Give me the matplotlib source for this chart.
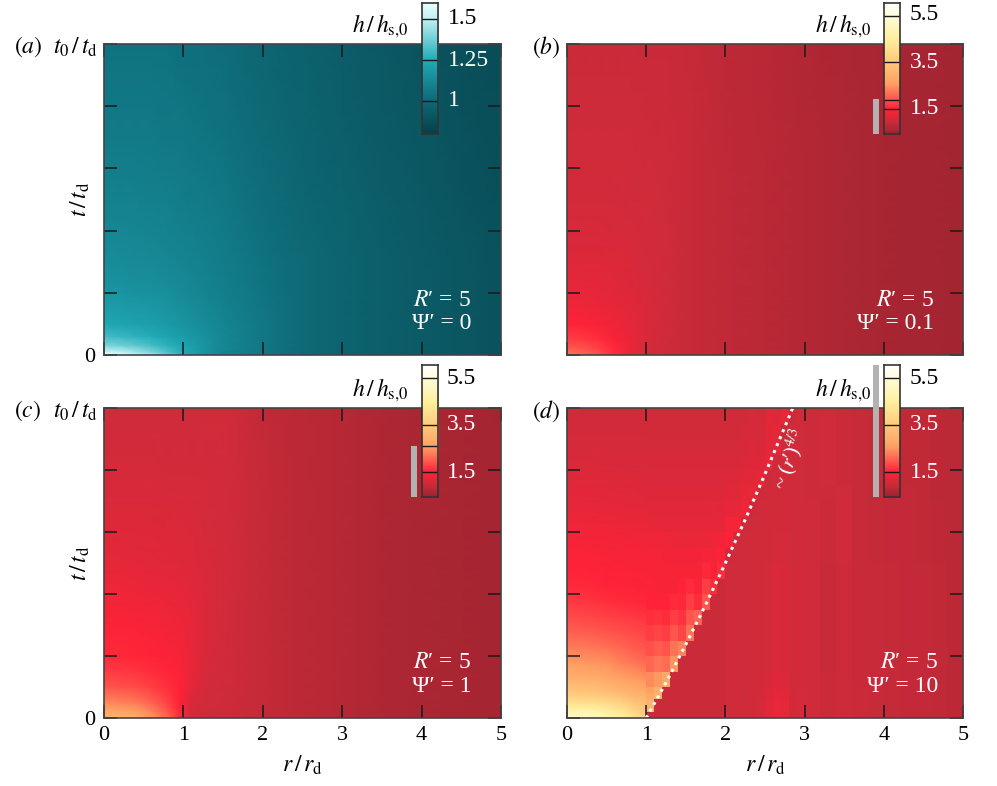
import numpy as np
import matplotlib
matplotlib.use("Agg")
import matplotlib.pyplot as plt
from matplotlib.colors import LinearSegmentedColormap, Normalize
from matplotlib.patches import Rectangle

plt.rcParams['font.family'] = ['Liberation Serif', 'DejaVu Serif']
plt.rcParams['mathtext.fontset'] = 'stix'

W, H = 997, 786

# colour scales
teal_vals = [0.8, 1.0, 1.25, 1.5, 1.6]
teal_cols = ['#064049', '#0e6a77', '#20acb8', '#c2f1f3', '#ecffff']
red_vals = [0.45, 1.0, 1.5, 2.0, 2.6, 3.5, 4.5, 5.5, 6.05]
red_cols = ['#9c2430', '#cf2b3a', '#ff2238', '#ff5c50', '#ffa062', '#ffc97c', '#fff09e', '#fffcdc', '#ffffff']

# panel (a) nodes
a_r = [0, .2, .4, .6, .8, 1, 1.25, 1.5, 2, 2.5, 3, 3.5, 4, 4.5, 5]
a_t = [0, .01, .03, .06, .1, .2, .3, .5, .7, 1]
a_h = [
    [1.60, 1.58, 1.52, 1.45, 1.36, 1.25, 1.15, 1.10, 1.05, 1.00, .97, .95, .93, .91, .89],
    [1.52, 1.50, 1.45, 1.39, 1.32, 1.24, 1.16, 1.10, 1.05, 1.00, .97, .95, .93, .91, .89],
    [1.40, 1.38, 1.35, 1.31, 1.27, 1.22, 1.16, 1.11, 1.05, 1.00, .97, .95, .93, .91, .89],
    [1.30, 1.29, 1.27, 1.25, 1.22, 1.19, 1.15, 1.11, 1.05, 1.00, .97, .95, .93, .91, .89],
    [1.23, 1.22, 1.21, 1.20, 1.18, 1.16, 1.13, 1.10, 1.05, 1.00, .97, .95, .93, .91, .89],
    [1.16, 1.16, 1.15, 1.15, 1.14, 1.12, 1.10, 1.08, 1.04, 1.00, .97, .95, .93, .91, .89],
    [1.13, 1.13, 1.12, 1.12, 1.11, 1.10, 1.09, 1.07, 1.03, 1.00, .97, .95, .93, .91, .89],
    [1.09, 1.09, 1.09, 1.08, 1.08, 1.07, 1.06, 1.05, 1.01, .98, .96, .94, .92, .90, .88],
    [1.06, 1.06, 1.06, 1.06, 1.05, 1.05, 1.04, 1.03, 1.00, .97, .95, .93, .91, .89, .87],
    [1.03, 1.03, 1.03, 1.03, 1.03, 1.02, 1.02, 1.01, .98, .96, .94, .92, .90, .88, .86],
]

# panels (b) and (c) nodes
bc_r = [0, .2, .4, .6, .8, .95, 1.1, 1.3, 1.6, 2, 2.5, 3, 3.5, 4, 5]
bc_t = [0, .02, .05, .1, .15, .2, .3, .4, .5, .6, .8, 1]
b_h = [
    [2.20, 2.10, 1.90, 1.60, 1.30, 1.12, 1.03, .98, .92, .86, .78, .72, .65, .60, .55],
    [2.00, 1.92, 1.78, 1.55, 1.30, 1.14, 1.04, .99, .92, .86, .78, .72, .65, .60, .55],
    [1.75, 1.70, 1.60, 1.45, 1.28, 1.16, 1.05, 1.00, .93, .86, .78, .72, .65, .60, .55],
    [1.50, 1.48, 1.42, 1.33, 1.24, 1.16, 1.07, 1.01, .93, .86, .78, .72, .65, .60, .55],
    [1.38, 1.36, 1.32, 1.27, 1.20, 1.14, 1.07, 1.01, .93, .86, .78, .72, .65, .60, .55],
    [1.28, 1.27, 1.25, 1.21, 1.16, 1.12, 1.06, 1.01, .93, .86, .78, .72, .65, .60, .55],
    [1.16, 1.16, 1.15, 1.13, 1.11, 1.08, 1.05, 1.00, .93, .86, .78, .72, .65, .60, .55],
    [1.10, 1.10, 1.09, 1.08, 1.07, 1.06, 1.04, 1.00, .93, .86, .78, .72, .65, .60, .55],
    [1.06, 1.06, 1.05, 1.05, 1.04, 1.03, 1.02, .99, .93, .86, .78, .72, .65, .60, .55],
    [1.03, 1.03, 1.02, 1.02, 1.02, 1.01, 1.00, .98, .92, .85, .78, .72, .65, .60, .55],
    [.99, .99, .99, .99, .98, .98, .97, .96, .91, .84, .77, .71, .65, .60, .55],
    [.96, .96, .96, .96, .96, .95, .95, .94, .90, .83, .76, .70, .64, .59, .55],
]
c_h = [
    [3.00, 2.95, 2.85, 2.50, 2.10, 1.60, 1.02, 1.00, .98, .90, .82, .75, .68, .62, .56],
    [2.80, 2.75, 2.65, 2.35, 1.95, 1.55, 1.05, 1.01, .98, .90, .82, .75, .68, .62, .56],
    [2.40, 2.35, 2.25, 2.05, 1.78, 1.50, 1.12, 1.03, .98, .90, .82, .75, .68, .62, .56],
    [1.95, 1.90, 1.85, 1.75, 1.62, 1.50, 1.22, 1.05, 1.00, .90, .82, .75, .68, .62, .56],
    [1.72, 1.70, 1.66, 1.60, 1.54, 1.47, 1.28, 1.08, 1.00, .90, .82, .75, .68, .62, .56],
    [1.58, 1.56, 1.54, 1.50, 1.46, 1.42, 1.28, 1.10, 1.00, .90, .82, .75, .68, .62, .56],
    [1.48, 1.46, 1.44, 1.42, 1.38, 1.34, 1.26, 1.12, 1.01, .90, .82, .75, .68, .62, .56],
    [1.36, 1.35, 1.33, 1.31, 1.28, 1.26, 1.20, 1.11, 1.02, .90, .82, .75, .68, .62, .56],
    [1.25, 1.24, 1.23, 1.21, 1.19, 1.17, 1.14, 1.09, 1.02, .90, .82, .75, .68, .62, .56],
    [1.17, 1.17, 1.16, 1.15, 1.14, 1.13, 1.11, 1.07, 1.02, .90, .82, .75, .68, .62, .56],
    [1.07, 1.07, 1.07, 1.07, 1.06, 1.06, 1.06, 1.06, 1.04, .90, .82, .75, .68, .62, .56],
    [1.00, 1.00, 1.00, 1.00, 1.00, 1.00, 1.01, 1.03, 1.03, .88, .80, .74, .67, .61, .55],
]

# panel (d): first six columns are smooth, the rest are cells from r = 1
d_left_r = [0, .3, .5, .7, .85, 1]
d_r_edges = [1, 1.1, 1.2, 1.3, 1.4, 1.5, 1.6, 1.7, 1.8, 1.9, 2, 2.1, 2.2,
             2.3, 2.4, 2.5, 2.6, 2.7, 2.8, 2.9, 3, 3.2, 3.4, 3.6, 3.8, 4, 4.2, 4.4, 4.6, 4.8, 5]
d_t_edges = [0, .01, .02, .04, .06, .08, .1, .15, .2, .25, .3, .35, .4, .45, .5, .55, .6, .65,
             .7, .75, .8, .85, .9, .95, 1]
d_h = [
    [5.2, 5.1, 4.9, 4.5, 4.1, 3.7, .97, .97, .97, .97, .97, .97, .97, .97, .97, .97, 1.0, 1.02, 1.0, 1.03, 1.08, 1.18, 1.3, 1.25, 1.05, 1.1, 1.0, .97, .98, .96, .92, .9, .88, .87, .85, .82],
    [5.0, 4.9, 4.7, 4.3, 3.9, 3.5, .97, .97, .97, .97, .97, .97, .97, .97, .97, .97, 1.0, 1.02, 1.0, 1.03, 1.08, 1.18, 1.3, 1.25, 1.05, 1.1, 1.0, .97, .98, .96, .92, .9, .88, .87, .85, .82],
    [4.6, 4.5, 4.3, 4.0, 3.7, 3.4, 3.0, .97, .97, .97, .97, .97, .97, .97, .97, .97, 1.0, 1.02, 1.0, 1.03, 1.08, 1.18, 1.3, 1.25, 1.05, 1.1, 1.0, .97, .98, .96, .92, .9, .88, .87, .85, .82],
    [4.1, 4.0, 3.9, 3.7, 3.4, 3.2, 3.0, .97, .97, .97, .97, .97, .97, .97, .97, .97, 1.0, 1.02, 1.0, 1.03, 1.08, 1.18, 1.3, 1.25, 1.05, 1.1, 1.0, .97, .98, .96, .92, .9, .88, .87, .85, .82],
    [3.7, 3.6, 3.5, 3.3, 3.1, 3.0, 2.8, 3.0, .97, .97, .97, .97, .97, .97, .97, .97, 1.0, 1.02, 1.0, 1.03, 1.06, 1.15, 1.25, 1.2, 1.05, 1.08, 1.0, .97, .98, .96, .92, .9, .88, .87, .85, .82],
    [3.4, 3.3, 3.2, 3.0, 2.9, 2.8, 2.6, 2.9, .97, .97, .97, .97, .97, .97, .97, .97, 1.0, 1.02, 1.0, 1.03, 1.05, 1.12, 1.2, 1.18, 1.05, 1.08, 1.0, .97, .98, .96, .92, .9, .88, .87, .85, .82],
    [3.0, 2.95, 2.85, 2.7, 2.6, 2.5, 2.4, 2.55, 2.8, .97, .97, .97, .97, .97, .97, .97, 1.0, 1.0, 1.0, 1.02, 1.05, 1.1, 1.16, 1.12, 1.03, 1.06, 1.0, .96, .98, .95, .92, .9, .88, .87, .85, .82],
    [2.6, 2.55, 2.5, 2.35, 2.25, 2.15, 2.1, 2.2, 2.15, 2.5, .97, .97, .97, .97, .97, .97, 1.0, 1.0, 1.0, 1.02, 1.05, 1.08, 1.12, 1.1, 1.02, 1.05, 1.0, .95, .98, .95, .92, .9, .88, .87, .85, .82],
    [2.3, 2.25, 2.2, 2.1, 2.0, 1.95, 1.9, 2.0, 1.92, 2.2, 2.35, .97, .97, .97, .97, .97, 1.0, 1.0, 1.0, 1.02, 1.05, 1.08, 1.12, 1.1, 1.02, 1.05, 1.0, .95, .98, .95, .92, .9, .88, .87, .85, .82],
    [2.05, 2.0, 1.95, 1.9, 1.85, 1.8, 1.75, 1.8, 1.72, 1.95, 1.8, 2.2, .97, .97, .97, .97, 1.0, 1.0, 1.0, 1.02, 1.05, 1.08, 1.12, 1.1, 1.02, 1.05, 1.0, .95, .98, .95, .92, .9, .88, .87, .85, .82],
    [1.85, 1.82, 1.78, 1.74, 1.7, 1.66, 1.62, 1.64, 1.6, 1.75, 1.65, 1.95, 2.05, .97, .97, .97, 1.0, 1.0, 1.0, 1.02, 1.05, 1.08, 1.12, 1.1, 1.02, 1.05, 1.0, .95, .98, .95, .92, .9, .88, .87, .85, .82],
    [1.7, 1.66, 1.62, 1.58, 1.55, 1.53, 1.52, 1.52, 1.5, 1.58, 1.55, 1.75, 1.6, 1.95, .97, .97, 1.0, 1.0, 1.0, 1.02, 1.05, 1.08, 1.12, 1.1, 1.02, 1.05, 1.0, .95, .98, .95, .92, .9, .88, .87, .85, .82],
    [1.58, 1.55, 1.52, 1.5, 1.48, 1.47, 1.46, 1.45, 1.45, 1.45, 1.5, 1.58, 1.5, 1.75, 1.6, .97, 1.0, 1.0, 1.0, 1.02, 1.05, 1.08, 1.12, 1.1, 1.02, 1.05, 1.0, .95, .98, .95, .92, .9, .88, .87, .85, .82],
    [1.5, 1.5, 1.48, 1.46, 1.45, 1.44, 1.43, 1.42, 1.42, 1.42, 1.42, 1.45, 1.42, 1.55, 1.45, 1.6, 1.0, 1.0, 1.0, 1.02, 1.05, 1.08, 1.12, 1.1, 1.02, 1.05, 1.0, .95, .98, .95, .92, .9, .88, .87, .85, .82],
    [1.47, 1.46, 1.45, 1.43, 1.42, 1.41, 1.4, 1.4, 1.38, 1.38, 1.38, 1.38, 1.38, 1.42, 1.4, 1.5, .98, 1.0, 1.0, 1.02, 1.05, 1.06, 1.08, 1.08, 1.0, 1.04, 1.0, .96, 1.0, .95, .9, .88, .88, .85, .83, .78],
    [1.42, 1.41, 1.4, 1.38, 1.37, 1.36, 1.35, 1.35, 1.33, 1.32, 1.3, 1.3, 1.3, 1.3, 1.35, 1.38, 1.48, 1.0, 1.0, 1.02, 1.04, 1.06, 1.08, 1.08, 1.0, 1.04, 1.0, .97, 1.0, .95, .9, .88, .88, .85, .83, .78],
    [1.35, 1.34, 1.33, 1.32, 1.3, 1.3, 1.28, 1.27, 1.26, 1.25, 1.25, 1.25, 1.25, 1.25, 1.28, 1.25, 1.4, 1.42, .98, 1.0, 1.02, 1.05, 1.06, 1.06, 1.0, 1.02, 1.0, .97, 1.0, .95, .9, .88, .88, .85, .83, .78],
    [1.27, 1.26, 1.25, 1.24, 1.23, 1.22, 1.21, 1.2, 1.2, 1.2, 1.2, 1.2, 1.2, 1.2, 1.22, 1.2, 1.28, 1.25, 1.35, .98, 1.0, 1.04, 1.04, 1.05, 1.0, 1.0, 1.0, .97, 1.0, .95, .9, .88, .88, .85, .83, .78],
    [1.22, 1.21, 1.2, 1.19, 1.18, 1.17, 1.16, 1.15, 1.15, 1.15, 1.15, 1.15, 1.15, 1.15, 1.15, 1.15, 1.2, 1.18, 1.28, 1.3, .98, 1.02, 1.02, 1.04, 1.0, 1.0, .98, .98, 1.0, .93, .9, .88, .88, .85, .8, .78],
    [1.17, 1.16, 1.15, 1.14, 1.13, 1.13, 1.12, 1.12, 1.12, 1.12, 1.12, 1.12, 1.12, 1.12, 1.12, 1.12, 1.15, 1.14, 1.2, 1.18, 1.25, .98, 1.0, 1.02, 1.0, 1.0, .98, 1.0, .97, .93, .9, .88, .85, .85, .8, .78],
    [1.12, 1.11, 1.1, 1.1, 1.1, 1.09, 1.09, 1.09, 1.09, 1.09, 1.09, 1.09, 1.09, 1.09, 1.09, 1.09, 1.1, 1.1, 1.13, 1.15, 1.15, 1.28, .98, 1.0, 1.0, 1.0, .98, 1.0, .97, .93, .9, .88, .85, .85, .8, .78],
    [1.08, 1.08, 1.07, 1.07, 1.07, 1.07, 1.07, 1.07, 1.07, 1.07, 1.07, 1.07, 1.07, 1.07, 1.07, 1.07, 1.08, 1.08, 1.1, 1.13, 1.1, 1.2, 1.2, .98, 1.0, 1.0, .98, 1.0, .97, .93, .9, .88, .85, .85, .8, .78],
    [1.05, 1.05, 1.05, 1.05, 1.05, 1.05, 1.05, 1.05, 1.05, 1.05, 1.05, 1.05, 1.05, 1.05, 1.05, 1.05, 1.05, 1.05, 1.08, 1.1, 1.08, 1.2, 1.22, .98, 1.0, 1.0, .98, 1.0, .97, .93, .9, .88, .85, .85, .8, .78],
    [1.02, 1.02, 1.02, 1.02, 1.02, 1.02, 1.02, 1.02, 1.02, 1.02, 1.02, 1.02, 1.02, 1.03, 1.03, 1.03, 1.04, 1.04, 1.06, 1.08, 1.06, 1.2, 1.15, 1.3, .98, 1.0, .98, 1.0, .97, .93, .9, .88, .85, .85, .8, .78],
]

# dotted front
front_r = [1, 1.25, 1.5, 1.75, 2, 2.25, 2.5, 2.85]
front_t = [0, .114, .237, .365, .5, .64, .787, 1]

x_ticks = [0, 1, 2, 3, 4, 5]
y_ticks = [0, .2, .4, .6, .8, 1]
psi_labels = ["0", "0.1", "1", "10"]
panel_labels = ["a", "b", "c", "d"]

teal = LinearSegmentedColormap.from_list('teal', [((v - 0.8) / 0.8, c) for v, c in zip(teal_vals, teal_cols)])
reds = LinearSegmentedColormap.from_list('reds', [((v - 0.45) / 5.6, c) for v, c in zip(red_vals, red_cols)])
teal_norm = Normalize(0.8, 1.6)
red_norm = Normalize(0.45, 6.05)


def add_ax(x0, y0, x1, y1):
    # pixel box to figure axes
    return fig.add_axes([x0 / W, 1 - y1 / H, (x1 - x0) / W, (y1 - y0) / H])


def px_text(x, y, s, **kw):
    kw.setdefault('fontsize', 17)
    kw.setdefault('va', 'center')
    return fig.text(x / W, 1 - y / H, s, **kw)


def colorbar(x0, y0, x1, y1, cmap, norm, ticks, extra=()):
    cax = add_ax(x0, y0, x1, y1)
    vals = np.linspace(norm.vmin, norm.vmax, 256).reshape(-1, 1)
    cax.imshow(vals, origin='lower', aspect='auto', cmap=cmap, norm=norm,
               extent=[0, 1, norm.vmin, norm.vmax])
    for v in list(ticks) + list(extra):
        cax.axhline(v, color='#1a1a1a', lw=1.0)
    cax.set_xticks([])
    cax.set_yticks([])
    for s in cax.spines.values():
        s.set_color('#333333')
        s.set_linewidth(1.2)
    cax.set_zorder(4)
    return cax


fig = plt.figure(figsize=(W / 100, H / 100), dpi=100)

boxes = [(104, 44, 501, 355), (567, 44, 963, 355), (104, 408, 501, 718), (567, 408, 963, 718)]
for i, box in enumerate(boxes):
    ax = add_ax(*box)
    if i == 0:
        R, T = np.meshgrid(a_r, a_t)
        ax.pcolormesh(R, T, np.array(a_h), cmap=teal, norm=teal_norm, shading='gouraud')
    elif i < 3:
        R, T = np.meshgrid(bc_r, bc_t)
        ax.pcolormesh(R, T, np.array(b_h if i == 1 else c_h), cmap=reds, norm=red_norm, shading='gouraud')
    else:
        d_vals = np.array(d_h)
        # smooth part up to r = 1, nodes at the middle of each row
        t_mid = (np.array(d_t_edges[:-1]) + np.array(d_t_edges[1:])) / 2
        t_mid[0], t_mid[-1] = 0, 1
        R, T = np.meshgrid(d_left_r, t_mid)
        ax.pcolormesh(R, T, d_vals[:, :6], cmap=reds, norm=red_norm, shading='gouraud')
        ax.pcolormesh(d_r_edges, d_t_edges, d_vals[:, 6:], cmap=reds, norm=red_norm,
                      shading='flat', edgecolors='none', antialiased=False)
        ax.plot(front_r, front_t, color='white', lw=2.2, ls=(0, (1, 1.47)), dash_capstyle='butt')
    ax.set_xlim(0, 5)
    ax.set_ylim(0, 1)
    ax.set_xticks(x_ticks)
    ax.set_yticks(y_ticks)
    ax.tick_params(direction='in', length=9.4, width=1.1, color='#1a1a1a', top=True, right=True,
                   labelsize=16, pad=6)
    if i < 2:
        ax.set_xticklabels([])
    else:
        ax.set_xlabel(r'$r\,/\,r_{\mathrm{d}}$', fontsize=17, labelpad=6)
    ax.set_yticklabels(['0', '', '', '', '', ''] if i in (0, 2) else [])
    for s in ax.spines.values():
        s.set_color('#444444')
        s.set_linewidth(1.2)

    x0, y0, x1, y1 = box
    lab_x = 14 if i in (0, 2) else 532
    px_text(lab_x, y0 + 3, r'$(\mathit{' + panel_labels[i] + r'})$', ha='left')
    if i in (0, 2):
        px_text(x0 - 51, y0 + 3, r'$t_0\,/\,t_{\mathrm{d}}$', ha='left')
        px_text(x0 - 24, (y0 + y1) / 2, r'$t\,/\,t_{\mathrm{d}}$', rotation=90, ha='center')
    px_text(x0 + 248, y0 - 18, r'$h\,/\,h_{\mathrm{s},\!0}$', ha='left')
    rx = x1 - 30 if i == 0 or i == 2 else (x1 - 29 if i == 1 else x1 - 25)
    px_text(rx, y1 - 55, "$R$′ = 5", ha='right', color='white')
    px_text(rx, y1 - 32, "Ψ′ = " + psi_labels[i], ha='right', color='white')

# colour bars
colorbar(421.5, 2.7, 438, 134, teal, teal_norm, [1, 1.25, 1.5])
for y, s, c in [(18, '1.5', 'black'), (60, '1.25', 'white'), (101, '1', 'white')]:
    px_text(448, y, s, color=c, ha='left', zorder=6)

colorbar(884, 2.7, 900, 134, reds, red_norm, [1.5, 3.5, 5.5], extra=[1.9])
colorbar(421.5, 365, 438, 497, reds, red_norm, [1.5, 3.5, 5.5], extra=[2.62])
colorbar(884, 365, 900, 497, reds, red_norm, [1.5, 3.5, 5.5])
for x, off in [(910, 0), (447, 363), (910, 363)]:
    for y, s, c in [(15, '5.5', 'black'), (62, '3.5', 'white'), (109, '1.5', 'white')]:
        px_text(x, y + off, s, color=c, ha='left', zorder=6)

# grey bars
for x0, y0, x1, y1 in [(873, 99, 878.5, 134), (411, 446, 416.5, 497), (873, 365, 879, 497)]:
    fig.add_artist(Rectangle((x0 / W, 1 - y1 / H), (x1 - x0) / W, (y1 - y0) / H,
                             transform=fig.transFigure, facecolor='#b2b2b2', edgecolor='none', zorder=5))

px_text(790, 459, "~ ($r$′)$^{4/3}$", color='white', fontsize=15, rotation=71, ha='center', zorder=6)

fig.savefig('out.png', dpi=100)
